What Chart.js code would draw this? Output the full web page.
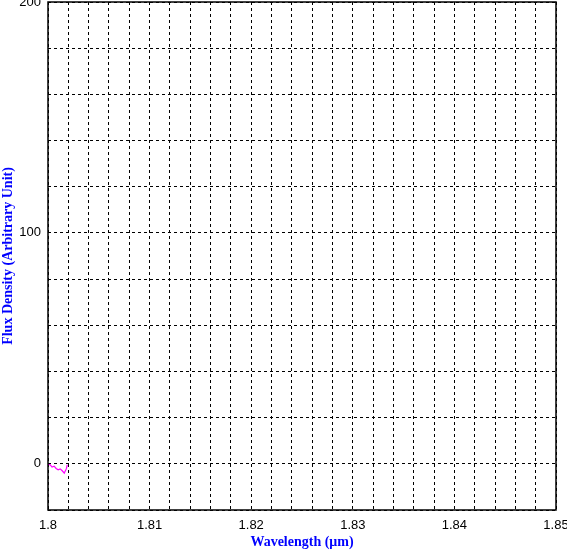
<!DOCTYPE html>
<html>
<head>
<meta charset="utf-8">
<script src="https://cdn.jsdelivr.net/npm/chart.js@4"></script>
<style>
  html, body { margin: 0; padding: 0; background: #fff; }
  #wrap { width: 567px; height: 551px; }
</style>
</head>
<body>
<div id="wrap"><canvas id="spec" width="567" height="551"></canvas></div>
<script>
// Spectrum data
const wavelengths = [1.8000, 1.8002, 1.8004, 1.8006, 1.8008, 1.8010, 1.8012, 1.8014, 1.8016, 1.8018, 1.8019];
const fluxValues  = [-0.4, -0.3, -1.4, -1.0, -2.0, -2.6, -2.2, -3.0, -4.0, -2.2, -0.4];

// Axis settings
const xLabels = [1.8, 1.81, 1.82, 1.83, 1.84, 1.85];
const yLabels = [0, 100, 200];

const points = wavelengths.map((w, i) => ({ x: w, y: fluxValues[i] }));

// Frame around the plot area
const framePlugin = {
    id: 'frame',
    afterDraw(chart) {
        const { ctx, chartArea: a } = chart;
        ctx.save();
        ctx.strokeStyle = '#000';
        ctx.lineWidth = 1.5;
        ctx.setLineDash([]);
        ctx.strokeRect(a.left, a.top, a.right - a.left, a.bottom - a.top);
        ctx.restore();
    }
};

const isLabel = (v, list) => list.some(l => Math.abs(l - v) < 1e-6);

new Chart(document.getElementById('spec').getContext('2d'), {
    type: 'line',
    data: {
        datasets: [{
            data: points,
            borderColor: '#ff00ff',
            borderWidth: 1.2,
            pointRadius: 0,
            tension: 0,
            fill: false
        }]
    },
    options: {
        responsive: false,
        animation: false,
        layout: { padding: { left: 0, right: 11, top: 2, bottom: 0 } },
        plugins: { legend: { display: false }, tooltip: { enabled: false } },
        scales: {
            x: {
                type: 'linear',
                min: 1.8,
                max: 1.85,
                afterFit(s) { s.height = 41; s.paddingLeft = 0; s.paddingRight = 0; },
                afterBuildTicks(s) {
                    const t = [];
                    for (let i = 0; i <= 25; i++) t.push({ value: 1.8 + i * 0.002 });
                    s.ticks = t;
                },
                grid: { color: '#000', lineWidth: 1, drawTicks: false },
                border: { display: false, dash: [3, 3] },
                ticks: {
                    color: '#000',
                    padding: 8,
                    maxRotation: 0,
                    autoSkip: false,
                    font: { family: 'Liberation Sans', size: 13 },
                    callback: v => isLabel(v, xLabels) ? String(+v.toFixed(2)) : ''
                },
                title: {
                    display: true,
                    text: 'Wavelength (\u03bcm)',
                    color: '#0000ff',
                    padding: { top: 2, bottom: 0 },
                    font: { family: 'Liberation Serif', size: 14, weight: 'bold' }
                }
            },
            y: {
                min: -20,
                max: 200,
                afterFit(s) { s.width = 48; s.paddingTop = 0; s.paddingBottom = 0; },
                ticks: {
                    stepSize: 20,
                    color: '#000',
                    padding: 7,
                    autoSkip: false,
                    font: { family: 'Liberation Sans', size: 13 },
                    callback: v => isLabel(v, yLabels) ? String(v) : ''
                },
                grid: { color: '#000', lineWidth: 1, drawTicks: false },
                border: { display: false, dash: [3, 3] },
                title: {
                    display: true,
                    text: 'Flux Density (Arbitrary Unit)',
                    color: '#0000ff',
                    padding: { top: 0, bottom: 2 },
                    font: { family: 'Liberation Serif', size: 14, weight: 'bold' }
                }
            }
        }
    },
    plugins: [framePlugin]
});
</script>
</body>
</html>
